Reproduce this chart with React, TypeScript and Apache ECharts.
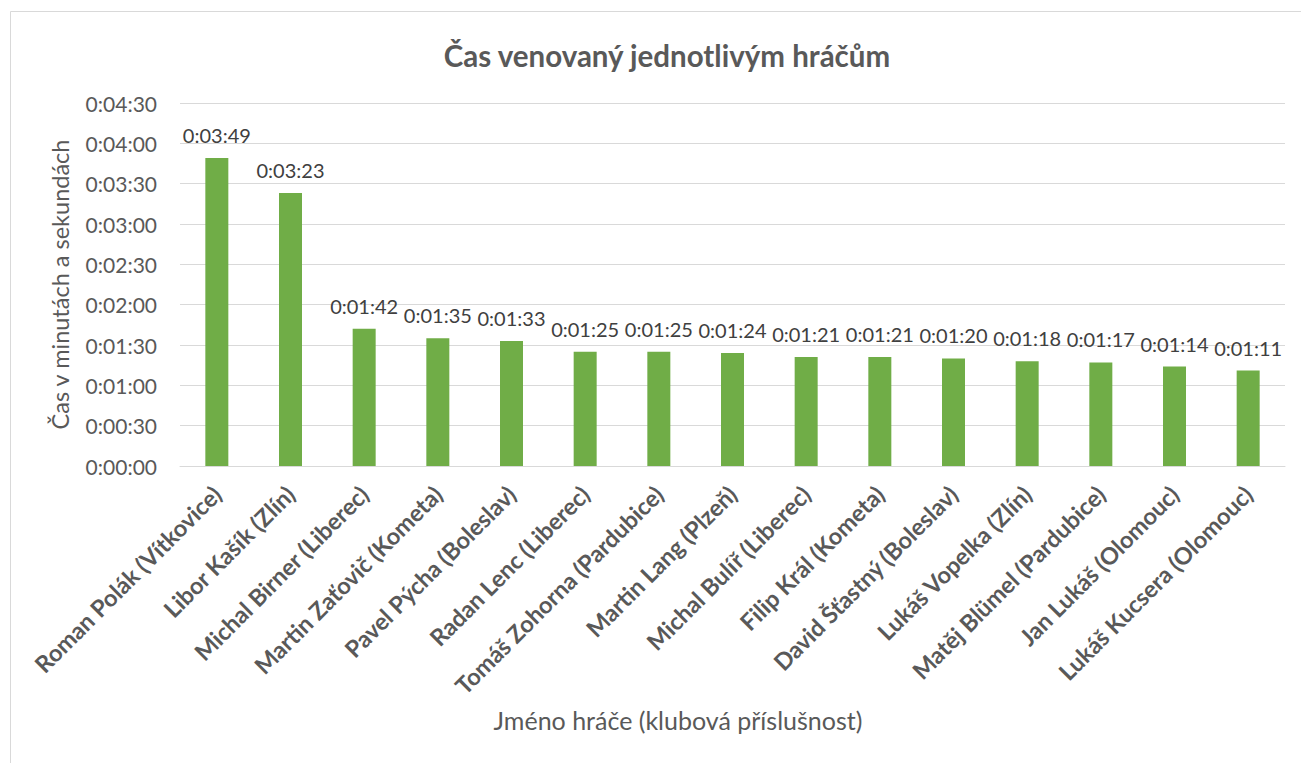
import React, { useEffect, useRef } from "react";
import * as echarts from "echarts";

const players = [
  "Roman Polák (Vítkovice)",
  "Libor Kašík (Zlín)",
  "Michal Birner (Liberec)",
  "Martin Zaťovič (Kometa)",
  "Pavel Pýcha (Boleslav)",
  "Radan Lenc (Liberec)",
  "Tomáš Zohorna (Pardubice)",
  "Martin Lang (Plzeň)",
  "Michal Bulíř (Liberec)",
  "Filip Král (Kometa)",
  "David Šťastný (Boleslav)",
  "Lukáš Vopelka (Zlín)",
  "Matěj Blümel (Pardubice)",
  "Jan Lukáš (Olomouc)",
  "Lukáš Kucsera (Olomouc)",
];

// seconds
const timeSeconds = [229, 203, 102, 95, 93, 85, 85, 84, 81, 81, 80, 78, 77, 74, 71];

const yMin = 0;
const yMax = 270;
const yInterval = 30;

const FONT = "Lato, 'Open Sans', sans-serif";

function fmt(sec: number): string {
  const m = Math.floor(sec / 60);
  const s = Math.round(sec % 60);
  return `0:${String(m).padStart(2, "0")}:${String(s).padStart(2, "0")}`;
}

export default function App() {
  const ref = useRef<HTMLDivElement>(null);
  useEffect(() => {
    if (!ref.current) return;
    const chart = echarts.init(ref.current, undefined, { renderer: "svg" });
    chart.setOption({
      animation: false,
      backgroundColor: "#ffffff",
      title: {
        text: "Čas venovaný jednotlivým hráčům",
        left: 662,
        top: 35,
        textAlign: "center",
        textStyle: { fontFamily: FONT, fontSize: 29.5, fontWeight: "bold", color: "#595959" },
      },
      grid: { left: 180, right: 16, top: 103, bottom: 297, containLabel: false },
      xAxis: {
        type: "category",
        data: players,
        axisLine: { show: true, lineStyle: { color: "#d9d9d9", width: 1 } },
        axisTick: { show: false },
        axisLabel: {
          interval: 0,
          rotate: 45,
          margin: 24,
          fontFamily: FONT,
          fontSize: 23.5,
          fontWeight: "bold",
          color: "#595959",
        },
      },
      yAxis: {
        type: "value",
        min: yMin,
        max: yMax,
        interval: yInterval,
        name: "Čas v minutách a sekundách",
        nameLocation: "middle",
        nameGap: 108,
        nameTextStyle: { fontFamily: FONT, fontSize: 23.5, color: "#595959" },
        axisLine: { show: false },
        axisTick: { show: false },
        splitLine: { lineStyle: { color: "#d9d9d9", width: 1 } },
        axisLabel: {
          margin: 23,
          fontFamily: FONT,
          fontSize: 21,
          color: "#595959",
          formatter: (v: number) => fmt(v),
        },
      },
      series: [
        {
          type: "bar",
          data: timeSeconds,
          barWidth: 23,
          itemStyle: { color: "#70ad47" },
          label: {
            show: true,
            position: "top",
            distance: 13,
            fontFamily: FONT,
            fontSize: 20,
            color: "#404040",
            formatter: (p: any) => fmt(p.value),
          },
        },
      ],
      graphic: [
        {
          type: "rect",
          shape: { x: 10.5, y: 11.5, width: 1300, height: 770 },
          style: { fill: "none", stroke: "#d9d9d9", lineWidth: 1 },
          silent: true,
        },
        {
          type: "text",
          x: 678,
          y: 720,
          style: {
            text: "Jméno hráče (klubová příslušnost)",
            fontFamily: FONT,
            fontSize: 25,
            fill: "#595959",
            align: "center",
            verticalAlign: "middle",
          },
        },
      ],
    });
    return () => chart.dispose();
  }, []);
  return (
    <div
      ref={ref}
      style={{ position: "fixed", left: 0, top: 0, width: 1301, height: 763 }}
    />
  );
}
